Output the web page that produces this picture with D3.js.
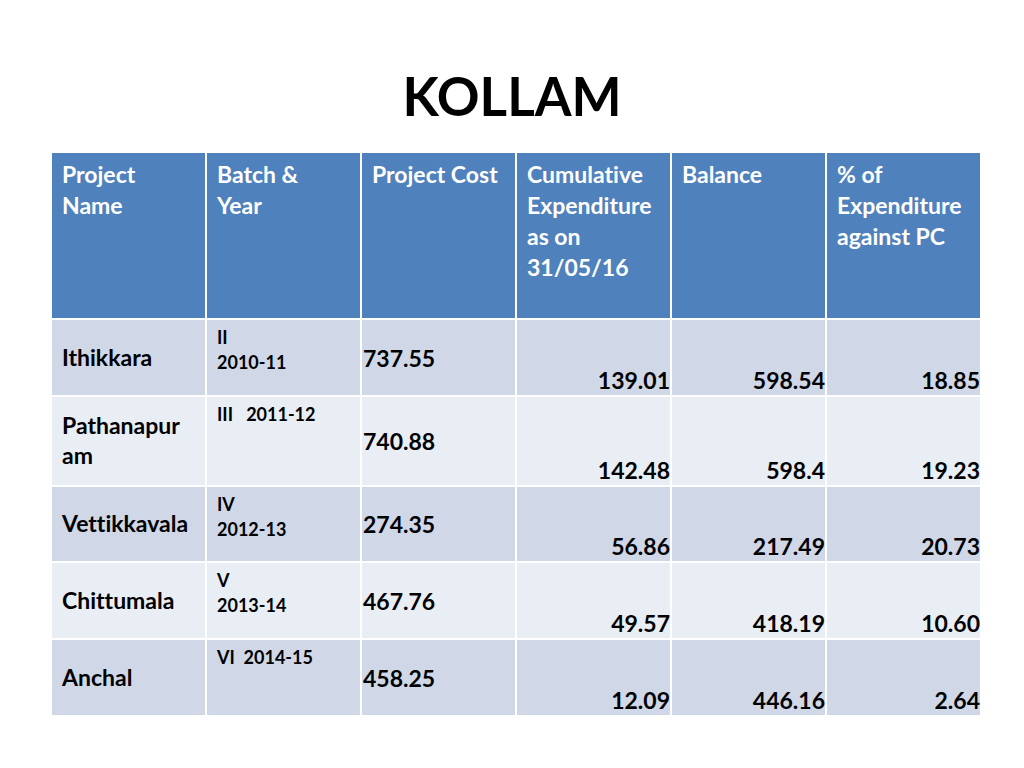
<!DOCTYPE html>
<html lang="en">
<head>
    <meta charset="utf-8">
    <title>KOLLAM</title>
    <script type="text/javascript" src="https://cdn.jsdelivr.net/npm/d3@7"></script>
    <style type="text/css">
        body { margin: 0; background: #fff; }
        text { font-family: Lato, "Open Sans", sans-serif; font-weight: bold; white-space: pre; font-variant-ligatures: none; }
    </style>
</head>
<body>
    <script type="text/javascript">

        //Table content
        var headers = [
            ["Project", "Name"],
            ["Batch &", "Year"],
            ["Project Cost"],
            ["Cumulative", "Expenditure", "as on", "31/05/16"],
            ["Balance"],
            ["% of", "Expenditure", "against PC"]
        ];
        var projects = [["Ithikkara"], ["Pathanapur", "am"], ["Vettikkavala"], ["Chittumala"], ["Anchal"]];
        var batches = [["II", "2010-11"], ["III   2011-12"], ["IV", "2012-13"], ["V", "2013-14"], ["VI  2014-15"]];
        var costs = ["737.55", "740.88", "274.35", "467.76", "458.25"];
        var expenditure = ["139.01", "142.48", "56.86", "49.57", "12.09"];
        var balance = ["598.54", "598.4", "217.49", "418.19", "446.16"];
        var percent = ["18.85", "19.23", "20.73", "10.60", "2.64"];

        //Width and height
        var w = 1024;
        var h = 768;

        //Table layout
        var left = 51, right = 981;
        var headTop = 153, headBottom = 319;
        var rowHeights = [77, 90, 76, 77, 77];
        var rowTops = [headBottom].concat(Array.from(d3.cumsum(rowHeights), function (d) { return headBottom + d; }));

        var x = d3.scaleBand()
            .domain(d3.range(headers.length))
            .range([left, right]);

        var svg = d3.select("body")
            .append("svg")
            .attr("width", w)
            .attr("height", h);

        //Title
        svg.append("text")
            .attr("x", 512)
            .attr("y", 116)
            .attr("text-anchor", "middle")
            .style("font-size", "53px")
            .style("fill", "#000")
            .text("KOLLAM");

        //Header cells
        var head = svg.selectAll("g.head")
            .data(headers)
            .enter()
            .append("g")
            .attr("class", "head");

        head.append("rect")
            .attr("x", function (d, i) { return x(i) + 1; })
            .attr("y", headTop)
            .attr("width", x.bandwidth() - 2)
            .attr("height", headBottom - headTop - 1)
            .style("fill", "#4F81BD");

        head.selectAll("text")
            .data(function (d, i) { return d.map(function (t) { return { t: t, c: i }; }); })
            .enter()
            .append("text")
            .attr("x", function (d) { return x(d.c) + 11; })
            .attr("y", function (d, j) { return headTop + 30 + j * 31; })
            .style("font-size", "23px")
            .style("fill", "#fff")
            .text(function (d) { return d.t; });

        //Body rows
        var rows = svg.selectAll("g.row")
            .data(projects)
            .enter()
            .append("g")
            .attr("class", "row")
            .attr("transform", function (d, i) { return "translate(0," + rowTops[i] + ")"; });

        rows.selectAll("rect")
            .data(function (d, i) { return d3.range(headers.length).map(function (c) { return { c: c, r: i }; }); })
            .enter()
            .append("rect")
            .attr("x", function (d) { return x(d.c) + 1; })
            .attr("y", 1)
            .attr("width", x.bandwidth() - 2)
            .attr("height", function (d) { return rowHeights[d.r] - 2; })
            .style("fill", function (d) { return d.r % 2 === 0 ? "#D0D8E8" : "#E9EDF4"; });

        rows.each(function (d, i) {
            var g = d3.select(this);
            var mid = rowHeights[i] / 2;

            //Project name, vertically centred
            var lines = projects[i];
            lines.forEach(function (t, j) {
                g.append("text")
                    .attr("x", x(0) + 11)
                    .attr("y", mid + 8 + (j - (lines.length - 1) / 2) * 30)
                    .style("font-size", "23px")
                    .style("fill", "#000")
                    .text(t);
            });

            //Batch & year, top aligned
            batches[i].forEach(function (t, j) {
                g.append("text")
                    .attr("x", x(1) + 11)
                    .attr("y", 25 + j * 25)
                    .style("font-size", "18px")
                    .style("fill", "#000")
                    .text(t);
            });

            //Project cost, vertically centred
            g.append("text")
                .attr("x", x(2) + 2)
                .attr("y", mid + 9)
                .style("font-size", "23px")
                .style("fill", "#000")
                .text(costs[i]);

            //Figures, bottom right aligned
            [expenditure, balance, percent].forEach(function (col, k) {
                g.append("text")
                    .attr("x", x(3 + k) + x.bandwidth() - 1)
                    .attr("y", rowHeights[i] - 7)
                    .attr("text-anchor", "end")
                    .style("font-size", "23px")
                    .style("fill", "#000")
                    .text(col[i]);
            });
        });
    </script>
</body>
</html>
